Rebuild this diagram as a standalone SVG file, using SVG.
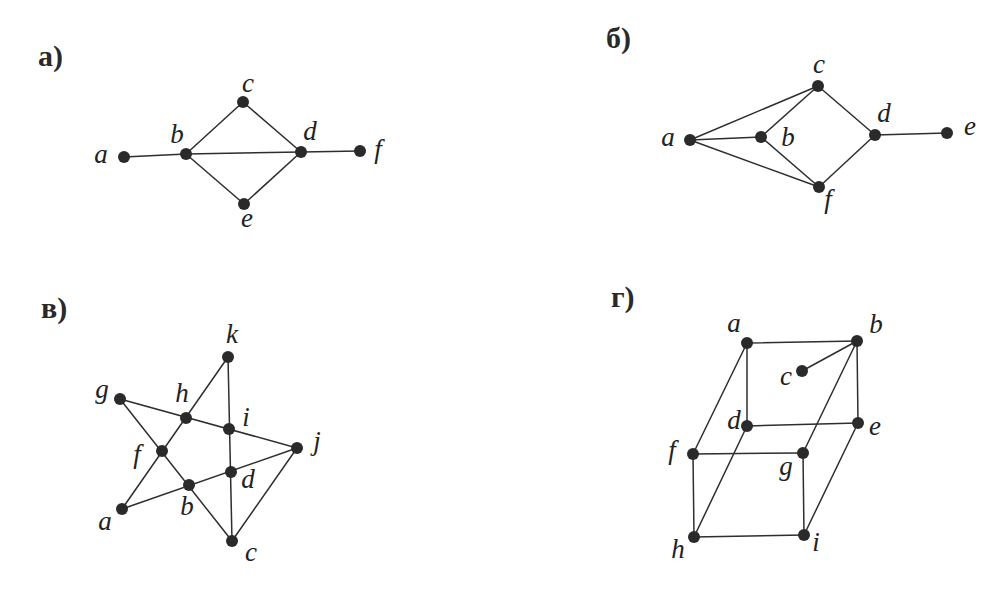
<svg xmlns="http://www.w3.org/2000/svg" width="1000" height="592" viewBox="0 0 1000 592">
<style>
.e{stroke:#2e2e2e;stroke-width:1.5;fill:none;stroke-linecap:round}
.n{fill:#2a2a2a}
.l{font-family:"Liberation Serif","DejaVu Serif",serif;font-style:italic;font-size:27px;fill:#222;text-anchor:middle}
.p{font-family:"Liberation Serif","DejaVu Serif",serif;font-weight:bold;font-size:30px;fill:#2a2a2a}
</style>
<rect width="1000" height="592" fill="#fff"/>
<g id="titles">
<text class="p" x="38" y="66">а)</text>
<text class="p" x="606" y="48">б)</text>
<text class="p" x="41" y="318">в)</text>
<text class="p" x="611" y="307">г)</text>
</g>
<g id="connectors">
<line class="e" x1="124" y1="157" x2="186" y2="154"/>
<line class="e" x1="186" y1="154" x2="301" y2="152"/>
<line class="e" x1="301" y1="152" x2="360" y2="151"/>
<line class="e" x1="186" y1="154" x2="243" y2="102"/>
<line class="e" x1="243" y1="102" x2="301" y2="152"/>
<line class="e" x1="186" y1="154" x2="244" y2="204"/>
<line class="e" x1="244" y1="204" x2="301" y2="152"/>
<line class="e" x1="690" y1="140" x2="818" y2="86"/>
<line class="e" x1="690" y1="140" x2="761" y2="137"/>
<line class="e" x1="690" y1="140" x2="819" y2="187"/>
<line class="e" x1="761" y1="137" x2="818" y2="86"/>
<line class="e" x1="761" y1="137" x2="819" y2="187"/>
<line class="e" x1="818" y1="86" x2="875" y2="135"/>
<line class="e" x1="819" y1="187" x2="875" y2="135"/>
<line class="e" x1="875" y1="135" x2="947" y2="133"/>
<line class="e" x1="228" y1="357" x2="122" y2="509"/>
<line class="e" x1="228" y1="357" x2="232" y2="541"/>
<line class="e" x1="120" y1="399" x2="297" y2="448"/>
<line class="e" x1="120" y1="399" x2="232" y2="541"/>
<line class="e" x1="122" y1="509" x2="297" y2="448"/>
<line class="e" x1="297" y1="448" x2="232" y2="541"/>
<line class="e" x1="747" y1="343" x2="857" y2="341"/>
<line class="e" x1="857" y1="341" x2="802" y2="371"/>
<line class="e" x1="747" y1="343" x2="747" y2="426"/>
<line class="e" x1="857" y1="341" x2="858" y2="423"/>
<line class="e" x1="747" y1="426" x2="858" y2="423"/>
<line class="e" x1="747" y1="343" x2="693" y2="454"/>
<line class="e" x1="857" y1="341" x2="803" y2="453"/>
<line class="e" x1="693" y1="454" x2="803" y2="453"/>
<line class="e" x1="747" y1="426" x2="694" y2="537"/>
<line class="e" x1="858" y1="423" x2="804" y2="535"/>
<line class="e" x1="693" y1="454" x2="694" y2="537"/>
<line class="e" x1="803" y1="453" x2="804" y2="535"/>
<line class="e" x1="694" y1="537" x2="804" y2="535"/>
</g>
<g id="a-a"><circle class="n" cx="124" cy="157" r="6"/><text class="l" x="101" y="163">a</text></g>
<g id="a-b"><circle class="n" cx="186" cy="154" r="6"/><text class="l" x="177" y="143">b</text></g>
<g id="a-c"><circle class="n" cx="243" cy="102" r="6"/><text class="l" x="248" y="92">c</text></g>
<g id="a-d"><circle class="n" cx="301" cy="152" r="6"/><text class="l" x="310" y="140">d</text></g>
<g id="a-e"><circle class="n" cx="244" cy="204" r="6"/><text class="l" x="247" y="227">e</text></g>
<g id="a-f"><circle class="n" cx="360" cy="151" r="6"/><text class="l" x="378" y="158">f</text></g>
<g id="b-a"><circle class="n" cx="690" cy="140" r="6"/><text class="l" x="668" y="146">a</text></g>
<g id="b-b"><circle class="n" cx="761" cy="137" r="6"/><text class="l" x="788" y="146">b</text></g>
<g id="b-c"><circle class="n" cx="818" cy="86" r="6"/><text class="l" x="819" y="73">c</text></g>
<g id="b-d"><circle class="n" cx="875" cy="135" r="6"/><text class="l" x="884" y="122">d</text></g>
<g id="b-e"><circle class="n" cx="947" cy="133" r="6"/><text class="l" x="970" y="135">e</text></g>
<g id="b-f"><circle class="n" cx="819" cy="187" r="6"/><text class="l" x="828" y="208">f</text></g>
<g id="v-k"><circle class="n" cx="228" cy="357" r="6"/><text class="l" x="232" y="343">k</text></g>
<g id="v-g"><circle class="n" cx="120" cy="399" r="6"/><text class="l" x="102" y="398">g</text></g>
<g id="v-h"><circle class="n" cx="186" cy="418" r="6"/><text class="l" x="182" y="402">h</text></g>
<g id="v-i"><circle class="n" cx="229" cy="429" r="6"/><text class="l" x="246" y="426">i</text></g>
<g id="v-j"><circle class="n" cx="297" cy="448" r="6"/><text class="l" x="317" y="450">j</text></g>
<g id="v-f"><circle class="n" cx="162" cy="451" r="6"/><text class="l" x="137" y="463">f</text></g>
<g id="v-d"><circle class="n" cx="231" cy="472" r="6"/><text class="l" x="248" y="488">d</text></g>
<g id="v-b"><circle class="n" cx="189" cy="485" r="6"/><text class="l" x="187" y="515">b</text></g>
<g id="v-a"><circle class="n" cx="122" cy="509" r="6"/><text class="l" x="105" y="530">a</text></g>
<g id="v-c"><circle class="n" cx="232" cy="541" r="6"/><text class="l" x="251" y="561">c</text></g>
<g id="g-a"><circle class="n" cx="747" cy="343" r="6"/><text class="l" x="734" y="332">a</text></g>
<g id="g-b"><circle class="n" cx="857" cy="341" r="6"/><text class="l" x="876" y="333">b</text></g>
<g id="g-c"><circle class="n" cx="802" cy="371" r="6"/><text class="l" x="786" y="385">c</text></g>
<g id="g-d"><circle class="n" cx="747" cy="426" r="6"/><text class="l" x="734" y="429">d</text></g>
<g id="g-e"><circle class="n" cx="858" cy="423" r="6"/><text class="l" x="875" y="435">e</text></g>
<g id="g-f"><circle class="n" cx="693" cy="454" r="6"/><text class="l" x="672" y="459">f</text></g>
<g id="g-g"><circle class="n" cx="803" cy="453" r="6"/><text class="l" x="786" y="475">g</text></g>
<g id="g-h"><circle class="n" cx="694" cy="537" r="6"/><text class="l" x="678" y="558">h</text></g>
<g id="g-i"><circle class="n" cx="804" cy="535" r="6"/><text class="l" x="816" y="551">i</text></g>
</svg>
